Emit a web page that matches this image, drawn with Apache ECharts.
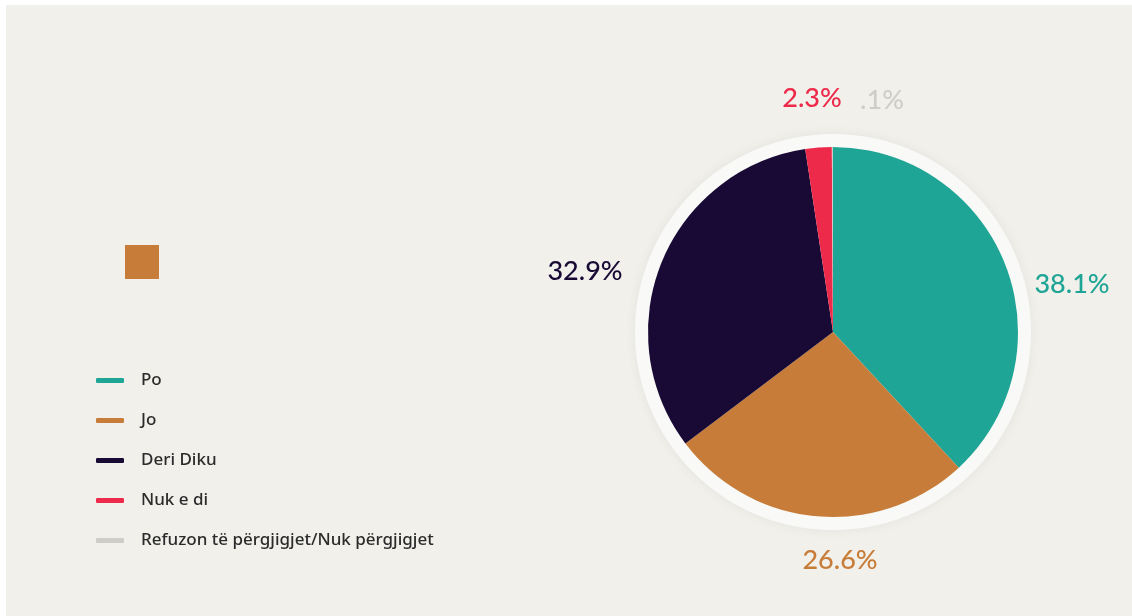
<!DOCTYPE html>
<html>
<head>
<meta charset="utf-8">
<script src="https://cdn.jsdelivr.net/npm/echarts@6/dist/echarts.min.js"></script>
<style>
  html, body { margin: 0; padding: 0; background: #ffffff; }
  #chart {
    position: absolute;
    left: 6px;
    top: 5px;
    width: 1126px;
    height: 611px;
    background: #f1f0eb;
  }
</style>
</head>
<body>
<div id="chart"></div>
<script>
// answers and their shares (%)
const names = ["Po", "Jo", "Deri Diku", "Nuk e di", "Refuzon të përgjigjet/Nuk përgjigjet"];
const values = [38.1, 26.6, 32.9, 2.3, 0.1];
const labels = ["38.1%", "26.6%", "32.9%", "2.3%", ".1%"];
const colors = ["#1fa595", "#c77d39", "#180a35", "#ee2a4a", "#cfcdc9"];

// where each percentage sits (chart pixels)
const labelPos = [[1066, 279], [834, 555], [579, 266], [806, 93], [876, 95]];

let chartDom = document.getElementById("chart");
let myChart = echarts.init(chartDom);
let option;

option = {
  animation: false,
  color: colors,
  legend: {
    orient: "vertical",
    left: 85,
    top: 362,
    itemWidth: 28,
    itemHeight: 5,
    itemGap: 23,
    icon: "roundRect",
    data: names,
    textStyle: {
      fontFamily: "Noto Sans",
      fontSize: 17,
      fontWeight: 500,
      color: "#2b2b2b",
      padding: [0, 0, 0, 12],
    },
  },
  graphic: [
    {
      type: "rect",
      left: 119,
      top: 240,
      shape: { width: 34, height: 34 },
      style: { fill: "#c77d39" },
    },
  ],
  series: [
    {
      // white ring behind the pie
      type: "pie",
      silent: true,
      z: 1,
      center: [827, 327],
      radius: [0, 198],
      label: { show: false },
      labelLine: { show: false },
      itemStyle: {
        color: "#f9f9f8",
        shadowBlur: 12,
        shadowColor: "rgba(0,0,0,0.06)",
      },
      data: [{ value: 1, name: "" }],
    },
    {
      name: "Answers",
      type: "pie",
      z: 2,
      center: [827, 327],
      radius: [0, 185],
      startAngle: 90,
      clockwise: true,
      labelLine: { show: false },
      label: {
        show: true,
        position: "outside",
        overflow: "none",
        fontFamily: "Lato",
        fontSize: 27,
        fontWeight: 500,
        formatter: (p) => labels[p.dataIndex],
      },
      labelLayout: (p) => ({
        x: labelPos[p.dataIndex][0],
        y: labelPos[p.dataIndex][1],
        align: "center",
        verticalAlign: "middle",
      }),
      data: names.map((n, i) => ({
        name: n,
        value: values[i],
        label: { color: colors[i] },
      })),
    },
  ],
};

option && myChart.setOption(option);
</script>
</body>
</html>
